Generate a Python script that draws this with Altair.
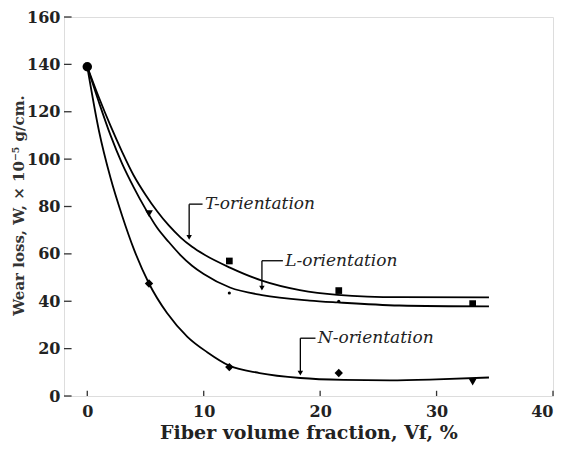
import altair as alt
import pandas as pd

# Fitted curves
t_x = [0, 1, 2, 3, 4, 5, 6, 7, 8, 9, 10, 12.25, 15, 18.25, 21.5, 26.8, 34.5]
t_y = [139, 126, 114, 103, 93, 85, 78, 72, 67, 63, 59.8, 54.2, 48.7, 44.7, 42.7, 41.7, 41.6]
l_x = [0, 1, 2, 3, 4, 5, 6, 7, 8, 9, 10, 12.25, 15, 19.1, 21.5, 26.8, 34.5]
l_y = [139, 124, 110, 98, 88, 79, 71, 65, 59.5, 55, 51.5, 45.8, 42.6, 40.3, 39.5, 38.2, 37.8]
n_x = [0, 1, 2, 3, 4, 5.3, 6.85, 8.6, 10.3, 12.2, 14.8, 18.3, 22, 26, 30, 34.5]
n_y = [139, 112, 92, 76, 62, 47.5, 35, 25, 18.5, 12.8, 9.7, 7.6, 6.8, 6.6, 7, 7.8]

# Measured points
common_x = [0]
common_y = [139]
sq_x = [12.2, 21.6, 33.1]
sq_y = [57, 44.5, 39]
tri_x = [5.3, 33.1]
tri_y = [77, 5.9]
dot_x = [12.2, 21.6]
dot_y = [43.5, 40]
dia_x = [5.3, 12.2, 21.6]
dia_y = [47.5, 12.2, 9.7]

# Annotations
ann_text = ["T-orientation", "L-orientation", "N-orientation"]
ann_x = [10.1, 17.0, 19.8]
ann_y = [81, 57.1, 24.4]
tip_x = [8.75, 15.0, 18.3]
tip_y = [65.5, 44.0, 8.2]

x_ticks = [0, 10, 20, 30, 40]
y_ticks = [0, 20, 40, 60, 80, 100, 120, 140, 160]

FONT = "DejaVu Serif"
xs = alt.Scale(domain=[-2, 40], nice=False, zero=False)
ys = alt.Scale(domain=[0, 160], nice=False)

curves = pd.DataFrame(
    [{"x": a, "y": b, "s": "T"} for a, b in zip(t_x, t_y)]
    + [{"x": a, "y": b, "s": "L"} for a, b in zip(l_x, l_y)]
    + [{"x": a, "y": b, "s": "N"} for a, b in zip(n_x, n_y)]
)

xaxis = alt.Axis(values=x_ticks, tickSize=0, domain=False, grid=False,
                 labelFont=FONT, labelFontSize=16, labelFontWeight="bold",
                 labelColor="#222", labelPadding=7,
                 title="Fiber volume fraction, Vf, %", titleFont=FONT,
                 titleFontSize=19, titleFontWeight="bold", titleColor="#222",
                 titlePadding=4)
yaxis = alt.Axis(values=y_ticks, tickSize=0, domain=False, grid=False,
                 labelFont=FONT, labelFontSize=16, labelFontWeight="bold",
                 labelColor="#222", labelPadding=4,
                 title="Wear loss, W, × 10⁻⁵ g/cm.", titleFont=FONT,
                 titleFontSize=15, titleFontWeight="bold", titleColor="#333",
                 titleX=-46, titleY=188, titleAngle=-90, titleBaseline="middle",
                 titleAlign="center")

lines = alt.Chart(curves).mark_line(color="black", strokeWidth=1.8, interpolate="monotone").encode(
    x=alt.X("x:Q", scale=xs, axis=xaxis),
    y=alt.Y("y:Q", scale=ys, axis=yaxis),
    detail="s:N",
)

def pts(xv, yv, shape, size):
    df = pd.DataFrame({"x": xv, "y": yv})
    return alt.Chart(df).mark_point(shape=shape, size=size, filled=True, color="black", opacity=1).encode(
        x=alt.X("x:Q", scale=xs), y=alt.Y("y:Q", scale=ys))

circles = pts(common_x, common_y, "circle", 90)
squares = pts(sq_x, sq_y, "square", 45)
tris = pts(tri_x, tri_y, "triangle-down", 60)
dots = pts(dot_x, dot_y, "circle", 10)
dias = pts(dia_x, dia_y, "diamond", 70)

ann = pd.DataFrame({"t": ann_text, "x": ann_x, "y": ann_y, "tx": tip_x, "ty": tip_y})
ann["hx2"] = ann["x"] - 0.2
ann["vy2"] = ann["ty"] + 1.5

hrule = alt.Chart(ann).mark_rule(color="black", strokeWidth=1.3).encode(
    x=alt.X("tx:Q", scale=xs), x2="hx2:Q", y=alt.Y("y:Q", scale=ys))
vrule = alt.Chart(ann).mark_rule(color="black", strokeWidth=1.3).encode(
    x=alt.X("tx:Q", scale=xs), y=alt.Y("y:Q", scale=ys), y2="vy2:Q")
heads = alt.Chart(ann).mark_point(shape="triangle-down", size=30, filled=True, color="black", opacity=1).encode(
    x=alt.X("tx:Q", scale=xs), y=alt.Y("vy2:Q", scale=ys))
labels = alt.Chart(ann).mark_text(font=FONT, fontSize=17, fontStyle="italic", align="left",
                                  baseline="middle", color="#222").encode(
    x=alt.X("x:Q", scale=xs), y=alt.Y("y:Q", scale=ys), text="t:N")

# inward tick marks
xt = pd.DataFrame({"x": x_ticks, "y0": [0] * len(x_ticks), "y1": [2.2] * len(x_ticks)})
yt = pd.DataFrame({"y": y_ticks, "x0": [-2] * len(y_ticks), "x1": [-1.35] * len(y_ticks)})
xtick = alt.Chart(xt).mark_rule(color="#333", strokeWidth=1.3).encode(
    x=alt.X("x:Q", scale=xs), y=alt.Y("y0:Q", scale=ys), y2="y1:Q")
ytick = alt.Chart(yt).mark_rule(color="#333", strokeWidth=1.3).encode(
    y=alt.Y("y:Q", scale=ys), x=alt.X("x0:Q", scale=xs), x2="x1:Q")

chart = alt.layer(lines, xtick, ytick, hrule, vrule, heads, labels,
                  circles, squares, tris, dots, dias).properties(
    width=489, height=379,
    autosize=alt.AutoSizeParams(type="none"),
    padding={"left": 56, "top": 9, "right": 4, "bottom": 50},
).configure_view(stroke="#444", strokeWidth=1.5).configure(background="white")

chart.save("out.html", embed_options={"renderer": "svg", "actions": False})
